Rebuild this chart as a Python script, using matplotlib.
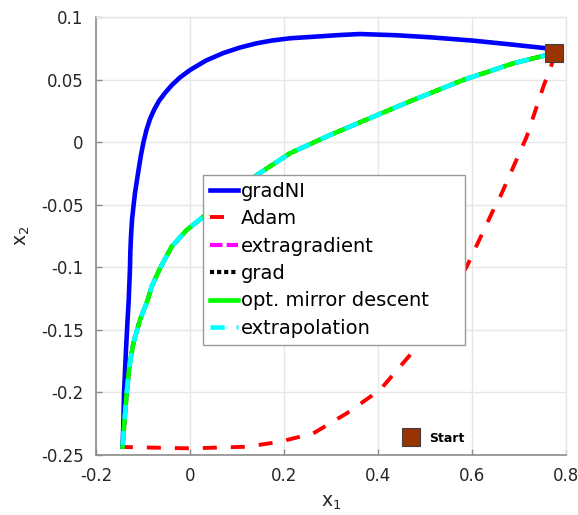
import matplotlib
matplotlib.use('Agg')
import matplotlib.pyplot as plt
from matplotlib.lines import Line2D

# ---------------- data ----------------
series_labels = ['gradNI', 'Adam', 'extragradient', 'grad',
                 'opt. mirror descent', 'extrapolation']

gradni_x = [0.775, 0.759, 0.6738, 0.6028, 0.5106, 0.44, 0.3617, 0.319,
            0.2128, 0.1745, 0.1419, 0.1064, 0.0709, 0.034, 0.0, -0.0213,
            -0.0383, -0.0532, -0.066, -0.0766, -0.0851, -0.0926, -0.0989,
            -0.1043, -0.1085, -0.1128, -0.117, -0.1202, -0.1234, -0.1255,
            -0.127, -0.1277, -0.1304, -0.1334, -0.1362, -0.1383, -0.1404,
            -0.142, -0.1434]
gradni_y = [0.0711, 0.075, 0.0784, 0.0811, 0.0838, 0.0854, 0.0864, 0.0856,
            0.083, 0.0812, 0.079, 0.0756, 0.0712, 0.0652, 0.0576, 0.0517,
            0.0457, 0.0393, 0.0329, 0.0257, 0.0185, 0.0097, 0.0001,
            -0.0103, -0.0199, -0.0303, -0.0406, -0.051, -0.0622, -0.075,
            -0.0878, -0.1006, -0.1261, -0.146, -0.166, -0.1837, -0.2005,
            -0.2274, -0.2434]

adam_x = [0.775, 0.773, 0.7518, 0.7163, 0.66, 0.6454, 0.5887, 0.4894, 0.4043,
          0.3334, 0.2624, 0.1915, 0.1206, 0.0, -0.1434]
adam_y = [0.0711, 0.0656, 0.0443, 0.0043, -0.0436, -0.0542, -0.0995, -0.1608,
          -0.198, -0.2167, -0.2327, -0.2394, -0.2434, -0.2447, -0.2436]

# the four remaining methods follow the same path
shared_x = [0.775, 0.688, 0.5815, 0.475, 0.39, 0.298, 0.2128, 0.142, 0.0283,
            -0.007, -0.039, -0.0638, -0.0817, -0.090, -0.1064, -0.1206,
            -0.1291, -0.1347, -0.1398, -0.1434]
shared_y = [0.0711, 0.063, 0.0497, 0.0337, 0.0203, 0.0057, -0.0089, -0.0263,
            -0.0596, -0.0702, -0.0835, -0.1008, -0.1155, -0.1261, -0.142,
            -0.1607, -0.1794, -0.2007, -0.2247, -0.2434]
extragrad_x, extragrad_y = shared_x, shared_y
grad_x, grad_y = shared_x, shared_y
omd_x, omd_y = shared_x, shared_y
extrap_x, extrap_y = shared_x, shared_y

start_label = 'Start'
start_x = [0.775]
start_y = [0.0711]

x_ticks = [-0.2, 0.0, 0.2, 0.4, 0.6, 0.8]
x_tick_labels = ['-0.2', '0', '0.2', '0.4', '0.6', '0.8']
y_ticks = [-0.25, -0.2, -0.15, -0.1, -0.05, 0.0, 0.05, 0.1]
y_tick_labels = ['-0.25', '-0.2', '-0.15', '-0.1', '-0.05', '0', '0.05', '0.1']

# ---------------- figure ----------------
plt.rcParams['font.family'] = ['DejaVu Sans']
W, H = 578, 515
fig = plt.figure(figsize=(W / 100, H / 100), dpi=100)
ax = fig.add_axes([96 / W, 60 / H, 470 / W, 438 / H])

spine_c = '#8c8c8c'
grid_c = '#e6e6e6'
text_c = '#262626'

ax.plot(gradni_x, gradni_y, color='#0000ff', lw=3.3, label=series_labels[0])
ax.plot(adam_x, adam_y, color='#ff0000', lw=2.8, dashes=(3.6, 3.6),
        label=series_labels[1])
ax.plot(extragrad_x, extragrad_y, color='#ff00ff', lw=3.0, dashes=(3.0, 1.0),
        label=series_labels[2])
ax.plot(grad_x, grad_y, color='#000000', lw=3.0, dashes=(1.0, 0.7),
        label=series_labels[3])
ax.plot(omd_x, omd_y, color='#00ff00', lw=3.3, label=series_labels[4])
ax.plot(extrap_x, extrap_y, color='#00ffff', lw=3.3, dashes=(3.1, 2.6),
        label=series_labels[5])
ax.plot(start_x, start_y, ls='none', marker='s', ms=13, mfc='#993300',
        mec='#404040', mew=0.8, zorder=6)

ax.set_xlim(-0.2, 0.8)
ax.set_ylim(-0.25, 0.1)
ax.set_xticks(x_ticks)
ax.set_xticklabels(x_tick_labels)
ax.set_yticks(y_ticks)
ax.set_yticklabels(y_tick_labels)
ax.tick_params(axis='both', direction='in', length=4, width=1, color=spine_c,
               labelsize=12, labelcolor=text_c)
ax.tick_params(axis='x', pad=8.5)
ax.tick_params(axis='y', pad=9)
ax.grid(True, color=grid_c, lw=1)
ax.set_axisbelow(True)
for s in ['left', 'bottom']:
    ax.spines[s].set_color(spine_c)
    ax.spines[s].set_linewidth(1.2)
for s in ['top', 'right']:
    ax.spines[s].set_color(grid_c)
    ax.spines[s].set_linewidth(1)

ax.set_xlabel(r'$\mathregular{x_1}$', fontsize=13.5, color=text_c, labelpad=6)
ax.set_ylabel(r'$\mathregular{x_2}$', fontsize=13.5, color=text_c, labelpad=6)

leg = ax.legend(loc='upper left', bbox_to_anchor=(0.2277, 0.639, 0.5574, 0.0),
                mode='expand', borderaxespad=0, fontsize=14,
                handlelength=1.45, handletextpad=0.15, borderpad=0.35,
                labelspacing=0.43, frameon=True, fancybox=False,
                edgecolor='#999999', framealpha=1)
leg.get_frame().set_linewidth(1.0)
ax.add_artist(leg)

start_handle = Line2D([], [], ls='none', marker='s', ms=13, mfc='#993300',
                      mec='#404040', mew=0.8)
ax.legend(handles=[start_handle], labels=[start_label], loc='center left',
          bbox_to_anchor=(0.656, 0.038), frameon=False,
          prop={'weight': 'bold', 'size': 9}, handlelength=1.0,
          handletextpad=1.0, borderaxespad=0, borderpad=0)

fig.savefig('out.png', dpi=100)
